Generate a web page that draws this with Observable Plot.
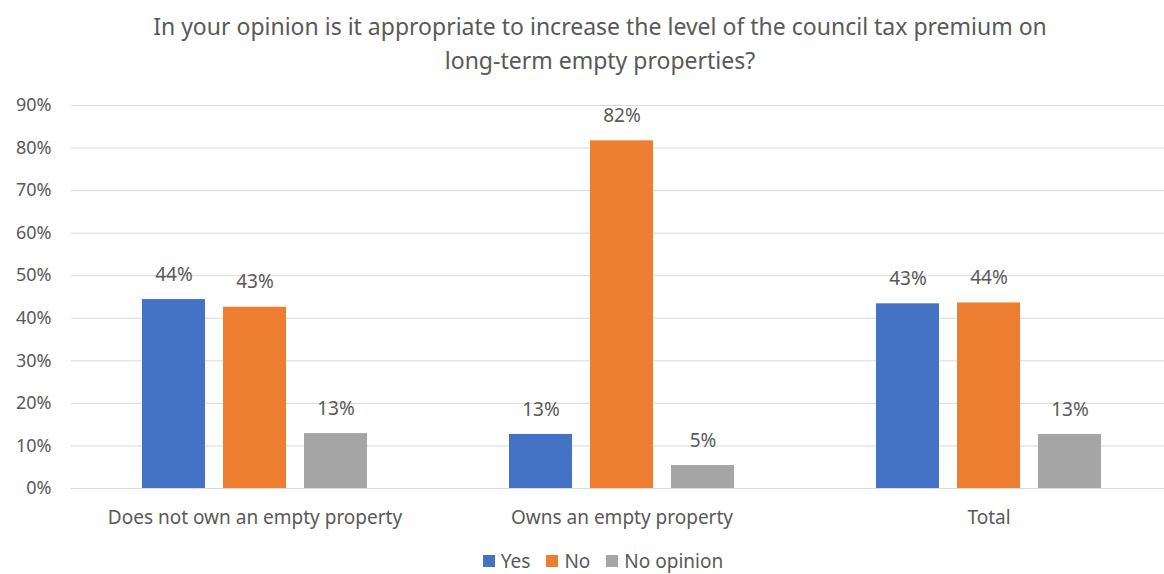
<!DOCTYPE html>
<html>
<head>
<meta charset="utf-8">
<script src="https://cdn.jsdelivr.net/npm/d3@7"></script>
<script src="https://cdn.jsdelivr.net/npm/@observablehq/plot@0.6"></script>
<style>
  html, body { margin: 0; padding: 0; background: #fff; overflow: hidden; width: 1164px; height: 574px; }
  body { font-family: "Noto Sans", "Open Sans", sans-serif; color: #595959; position: relative; }
  #title { position: absolute; left: 18px; top: 9px; width: 1164px; text-align: center; font-size: 23px; line-height: 34px; }
  #chart { position: absolute; left: 0; top: 88px; }
  #chart svg { max-width: none !important; }
  #legend { position: absolute; top: 550px; left: 21px; width: 1164px; display: flex; justify-content: center; gap: 16px; font-size: 19px; line-height: 22px; }
  #legend span.item { display: inline-flex; align-items: center; }
  #legend span.sw { width: 12px; height: 12px; display: inline-block; margin-right: 6px; }
</style>
</head>
<body>
<div id="title">In your opinion is it appropriate to increase the level of the council tax premium on<br>long-term empty properties?</div>
<div id="chart"></div>
<div id="legend"></div>
<script>
const groups = ["Does not own an empty property", "Owns an empty property", "Total"];
const series = ["Yes", "No", "No opinion"];
const yesValues = [44.4, 12.7, 43.4];
const noValues = [42.6, 81.7, 43.6];
const noOpinionValues = [12.9, 5.4, 12.7];
const colors = ["#4472C4", "#ED7D31", "#A5A5A5"];
const yTicks = [0, 10, 20, 30, 40, 50, 60, 70, 80, 90];

const seriesValues = [yesValues, noValues, noOpinionValues];
const data = [];
groups.forEach((g, gi) => {
  series.forEach((s, si) => {
    data.push({group: g, series: s, value: seriesValues[si][gi]});
  });
});

const chart = Plot.plot({
  width: 1173,
  height: 450,
  marginLeft: 70,
  marginRight: 0,
  marginTop: 17,
  marginBottom: 50,
  style: {fontFamily: "'Noto Sans', sans-serif", fontSize: "18px", color: "#595959", background: "#fff", overflow: "visible", maxWidth: "none"},
  fx: {domain: groups, padding: 0, axis: "bottom", tickSize: 0, tickPadding: 22, label: null, fontSize: 19},
  x: {domain: series, paddingInner: 0.22, paddingOuter: 0.85, axis: null},
  y: {domain: [0, 90], ticks: yTicks, tickFormat: d => d + "%", tickSize: 0, tickPadding: 20, label: null},
  color: {domain: series, range: colors},
  marks: [
    Plot.ruleY(yTicks, {y: d => d, stroke: "#d9d9d9", strokeWidth: 1}),
    Plot.barY(data, {fx: "group", x: "series", y: "value", fill: "series"}),
    Plot.text(data, {fx: "group", x: "series", y: "value", text: d => Math.round(d.value) + "%", dy: -25, fill: "#595959", fontSize: 19})
  ]
});
chart.style.maxWidth = "none";
chart.querySelectorAll("g[aria-label='fx-axis tick label'] text, g[aria-label='fx-axis'] text").forEach(t => t.style.fontSize = "19px");
document.getElementById("chart").appendChild(chart);

const legend = document.getElementById("legend");
series.forEach((s, i) => {
  const item = document.createElement("span");
  item.className = "item";
  const sw = document.createElement("span");
  sw.className = "sw";
  sw.style.background = colors[i];
  item.appendChild(sw);
  item.appendChild(document.createTextNode(s));
  legend.appendChild(item);
});
</script>
</body>
</html>
